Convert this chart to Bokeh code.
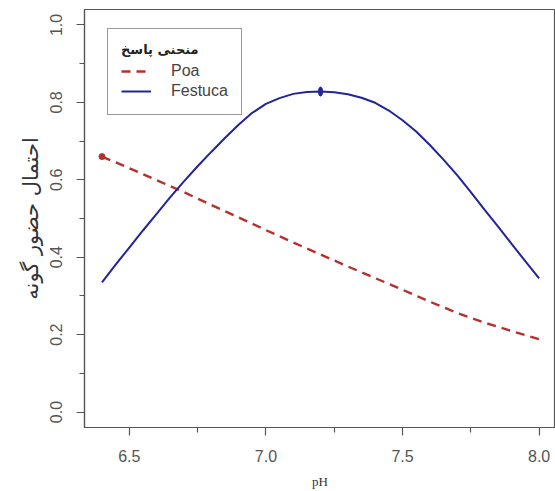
from bokeh.plotting import figure
from bokeh.models import ColumnDataSource, Legend, LegendItem, Range1d, FixedTicker
from bokeh.embed import file_html
from bokeh.resources import INLINE

# ---- data ----
ph_poa = [6.4, 6.5, 6.6, 6.7, 6.8, 6.9, 7.0, 7.1, 7.2, 7.3, 7.4, 7.5, 7.6, 7.7, 7.8, 7.9, 8.0]
poa = [0.660, 0.630, 0.599, 0.568, 0.535, 0.503, 0.470, 0.438, 0.407, 0.376,
       0.346, 0.316, 0.285, 0.256, 0.231, 0.209, 0.188]
ph_fes = [6.40, 6.45, 6.50, 6.55, 6.60, 6.65, 6.70, 6.75, 6.80, 6.85, 6.90, 6.95,
          7.00, 7.05, 7.10, 7.15, 7.20, 7.25, 7.30, 7.35, 7.40, 7.45, 7.50, 7.55,
          7.60, 7.65, 7.70, 7.75, 7.80, 7.85, 7.90, 7.95, 8.00]
festuca = [0.335, 0.381, 0.425, 0.469, 0.512, 0.555, 0.596, 0.635, 0.672, 0.708,
           0.742, 0.773, 0.796, 0.811, 0.822, 0.827, 0.828, 0.826, 0.821, 0.812,
           0.799, 0.779, 0.754, 0.725, 0.690, 0.652, 0.612, 0.568, 0.523, 0.479,
           0.434, 0.389, 0.345]
poa_opt_x = [6.4]
poa_opt_y = [0.660]
fes_opt_x = [7.2]
fes_opt_y = [0.828]
x_ticks = [6.5, 7.0, 7.5, 8.0]
x_minor = [6.75, 7.25, 7.75]
y_ticks = [0.0, 0.2, 0.4, 0.6, 0.8, 1.0]
y_minor = [0.1, 0.3, 0.5, 0.7, 0.9]
series_names = ["Poa", "Festuca"]
legend_title = "منحنی پاسخ"
y_title = "احتمال حضور گونه"
x_title = "pH"

RED = "#b8302e"
BLUE = "#23239a"
GRAY = "#555555"

src_poa = ColumnDataSource(dict(ph=ph_poa, v=poa))
src_fes = ColumnDataSource(dict(ph=ph_fes, v=festuca))

p = figure(width=555, height=491, output_backend="svg", toolbar_location=None,
           x_range=Range1d(6.336, 8.06), y_range=Range1d(-0.04, 1.04),
           min_border_left=84, min_border_right=0, min_border_top=9, min_border_bottom=64)
p.grid.visible = False
p.background_fill_color = "white"
p.border_fill_color = "white"
p.outline_line_color = GRAY
p.outline_line_width = 1.2

r_poa = p.line("ph", "v", source=src_poa, line_color=RED, line_width=2.4, line_dash="9 6")
r_fes = p.line("ph", "v", source=src_fes, line_color=BLUE, line_width=2)
p.scatter(poa_opt_x, poa_opt_y, size=6, color=RED)
p.ellipse(fes_opt_x, fes_opt_y, width=4, height=9, width_units="screen",
          height_units="screen", color=BLUE)

for ax in (p.xaxis[0], p.yaxis[0]):
    ax.axis_line_color = GRAY
    ax.axis_line_width = 1.2
    ax.major_tick_line_color = GRAY
    ax.minor_tick_line_color = GRAY
    ax.major_tick_line_width = 1.2
    ax.minor_tick_line_width = 1.2
    ax.major_tick_in = 0
    ax.major_tick_out = 8
    ax.minor_tick_in = 0
    ax.minor_tick_out = 5
    ax.major_label_text_font = "Liberation Sans"
    ax.major_label_text_font_size = "16px"
    ax.major_label_text_color = GRAY
    ax.major_label_standoff = 14

p.xaxis[0].ticker = FixedTicker(ticks=x_ticks, minor_ticks=x_minor)
p.yaxis[0].ticker = FixedTicker(ticks=y_ticks, minor_ticks=y_minor)
p.yaxis[0].major_label_orientation = "vertical"
p.xaxis[0].major_label_overrides = {t: f"{t:.1f}" for t in x_ticks}
p.yaxis[0].major_label_overrides = {t: f"{t:.1f}" for t in y_ticks}

p.xaxis[0].axis_label = x_title
p.xaxis[0].axis_label_text_font = "Liberation Serif"
p.xaxis[0].axis_label_text_font_style = "normal"
p.xaxis[0].axis_label_text_font_size = "13px"
p.xaxis[0].axis_label_text_color = "#333333"
p.xaxis[0].axis_label_standoff = 9

p.yaxis[0].axis_label = y_title
p.yaxis[0].axis_label_text_font = "DejaVu Sans"
p.yaxis[0].axis_label_text_font_style = "normal"
p.yaxis[0].axis_label_text_font_size = "21px"
p.yaxis[0].axis_label_text_color = "#333333"
p.yaxis[0].axis_label_standoff = 5

legend = Legend(items=[LegendItem(label=series_names[0], renderers=[r_poa]),
                       LegendItem(label=series_names[1], renderers=[r_fes])],
                location=(23, 312))
legend.title = legend_title
legend.title_text_font = "DejaVu Sans"
legend.title_text_font_size = "13px"
legend.title_text_font_style = "bold"
legend.title_text_color = "#222222"
legend.title_standoff = 4
legend.label_text_font = "Liberation Sans"
legend.label_text_font_size = "16px"
legend.label_text_color = "#444444"
legend.glyph_width = 30
legend.glyph_height = 20
legend.label_height = 20
legend.label_standoff = 20
legend.padding = 13
legend.spacing = 0
legend.margin = 0
legend.border_line_color = "#333333"
legend.border_line_width = 1.2
legend.background_fill_color = "white"
legend.background_fill_alpha = 1.0
p.add_layout(legend, "center")

open("out.html", "w").write(file_html(p, INLINE))
